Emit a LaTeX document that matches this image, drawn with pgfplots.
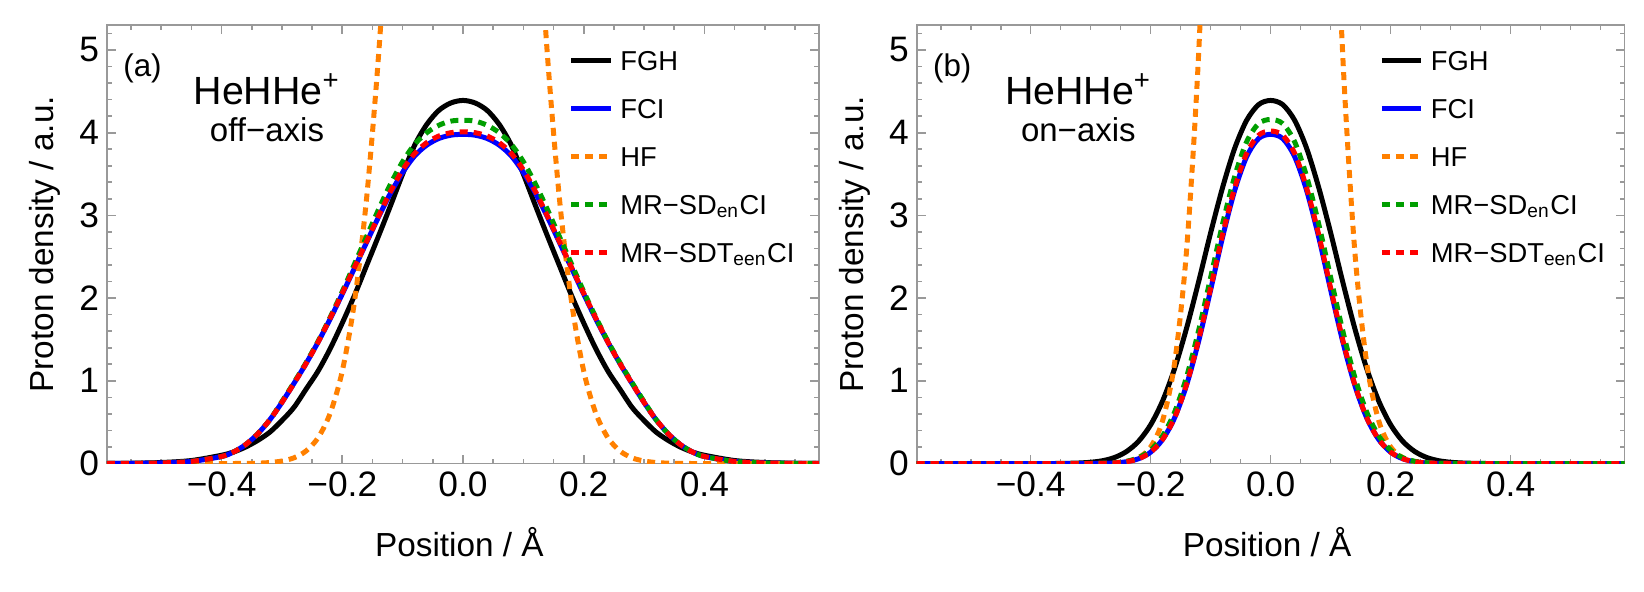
\documentclass[border=0pt]{standalone}
\usepackage{fontspec}
\setmainfont{Liberation Sans}
\usepackage{pgfplots}
\pgfplotsset{compat=1.18}
\usepackage{pgfplotstable}

\definecolor{mmaorange}{rgb}{1,0.5,0}
\definecolor{mmagreen}{rgb}{0,0.62,0}
\definecolor{framegray}{gray}{0.6}

% panel (a): off-axis
\pgfplotstableread{
x fgh fci hf sd sdt
-0.59 0.001 0 0 0 0
-0.55 0.003 0.002 0 0.002 0.002
-0.50 0.012 0.007 0 0.007 0.007
-0.45 0.036 0.025 0 0.025 0.025
-0.40 0.10 0.085 0 0.085 0.085
-0.38 0.14 0.14 0 0.14 0.14
-0.36 0.20 0.23 0.001 0.23 0.23
-0.34 0.28 0.36 0.004 0.36 0.36
-0.32 0.38 0.53 0.012 0.53 0.53
-0.30 0.52 0.74 0.030 0.75 0.74
-0.28 0.68 0.97 0.069 0.98 0.97
-0.26 0.90 1.21 0.152 1.22 1.21
-0.24 1.12 1.47 0.313 1.48 1.47
-0.22 1.39 1.75 0.61 1.77 1.76
-0.20 1.70 2.05 1.12 2.08 2.06
-0.18 2.03 2.36 1.95 2.41 2.37
-0.16 2.39 2.67 3.19 2.74 2.68
-0.14 2.75 2.98 4.93 3.07 2.99
-0.12 3.12 3.27 7.18 3.38 3.29
-0.10 3.50 3.52 9.88 3.65 3.55
-0.08 3.85 3.72 12.83 3.86 3.75
-0.06 4.10 3.85 15.71 4.00 3.88
-0.04 4.27 3.93 18.17 4.09 3.96
-0.02 4.36 3.97 19.82 4.14 4.00
0.00 4.39 3.98 20.4 4.15 4.01
0.02 4.36 3.97 19.82 4.14 4.00
0.04 4.27 3.93 18.17 4.09 3.96
0.06 4.10 3.85 15.71 4.00 3.88
0.08 3.85 3.72 12.83 3.86 3.75
0.10 3.50 3.52 9.88 3.65 3.55
0.12 3.12 3.27 7.18 3.38 3.29
0.14 2.75 2.98 4.93 3.07 2.99
0.16 2.39 2.67 3.19 2.74 2.68
0.18 2.03 2.36 1.95 2.41 2.37
0.20 1.70 2.05 1.12 2.08 2.06
0.22 1.39 1.75 0.61 1.77 1.76
0.24 1.12 1.47 0.313 1.48 1.47
0.26 0.90 1.21 0.152 1.22 1.21
0.28 0.68 0.97 0.069 0.98 0.97
0.30 0.52 0.74 0.030 0.75 0.74
0.32 0.38 0.53 0.012 0.53 0.53
0.34 0.28 0.36 0.004 0.36 0.36
0.36 0.20 0.23 0.001 0.23 0.23
0.38 0.14 0.14 0 0.14 0.14
0.40 0.10 0.085 0 0.085 0.085
0.45 0.036 0.025 0 0.025 0.025
0.50 0.012 0.007 0 0.007 0.007
0.55 0.003 0.002 0 0.002 0.002
0.59 0.001 0 0 0 0
}\dataA

% panel (b): on-axis
\pgfplotstableread{
x fgh fci hf sd sdt
-0.59 0 0 0 0 0
-0.50 0 0 0 0 0
-0.40 0 0 0 0 0
-0.36 0 0 0 0 0
-0.34 0.002 0 0 0 0
-0.32 0.006 0 0 0 0
-0.30 0.015 0 0 0.001 0
-0.28 0.034 0.002 0.0015 0.003 0.002
-0.26 0.073 0.007 0.006 0.009 0.007
-0.24 0.146 0.022 0.022 0.027 0.022
-0.22 0.270 0.058 0.071 0.071 0.058
-0.20 0.468 0.137 0.20 0.162 0.137
-0.18 0.758 0.291 0.52 0.335 0.292
-0.16 1.15 0.554 1.22 0.623 0.556
-0.14 1.64 0.952 2.59 1.05 0.96
-0.12 2.20 1.48 4.96 1.61 1.50
-0.10 2.79 2.10 8.60 2.25 2.12
-0.08 3.34 2.74 13.5 2.90 2.77
-0.06 3.81 3.30 19.1 3.47 3.33
-0.04 4.15 3.71 24.6 3.89 3.75
-0.02 4.34 3.93 28.5 4.11 3.97
0.00 4.39 3.98 30.0 4.16 4.02
0.02 4.34 3.93 28.5 4.11 3.97
0.04 4.15 3.71 24.6 3.89 3.75
0.06 3.81 3.30 19.1 3.47 3.33
0.08 3.34 2.74 13.5 2.90 2.77
0.10 2.79 2.10 8.60 2.25 2.12
0.12 2.20 1.48 4.96 1.61 1.50
0.14 1.64 0.952 2.59 1.05 0.96
0.16 1.15 0.554 1.22 0.623 0.556
0.18 0.758 0.291 0.52 0.335 0.292
0.20 0.468 0.137 0.20 0.162 0.137
0.22 0.270 0.058 0.071 0.071 0.058
0.24 0.146 0.022 0.022 0.027 0.022
0.26 0.073 0.007 0.006 0.009 0.007
0.28 0.034 0.002 0.0015 0.003 0.002
0.30 0.015 0 0 0.001 0
0.32 0.006 0 0 0 0
0.34 0.002 0 0 0 0
0.36 0 0 0 0 0
0.40 0 0 0 0 0
0.50 0 0 0 0 0
0.59 0 0 0 0 0
}\dataB

\pgfplotsset{
  panel/.style={
    scale only axis,
    height=131.5pt,
    xmin=-0.59, xmax=0.59, ymin=0, ymax=5.3,
    axis line style={framegray, line width=0.5pt},
    every tick/.style={framegray, line width=0.5pt},
    tick align=inside,
    major tick length=2.7pt, minor tick length=1.5pt,
    xtick={-0.4,-0.2,0,0.2,0.4},
    xticklabels={−0.4,−0.2,0.0,0.2,0.4},
    minor xtick={-0.55,-0.5,-0.45,-0.35,-0.3,-0.25,-0.15,-0.1,-0.05,0.05,0.1,0.15,0.25,0.3,0.35,0.45,0.5,0.55},
    ytick={0,1,2,3,4,5},
    yticklabels={0,1,2,3,4,5},
    minor ytick={0.2,0.4,0.6,0.8,1.2,1.4,1.6,1.8,2.2,2.4,2.6,2.8,3.2,3.4,3.6,3.8,4.2,4.4,4.6,4.8,5.2},
    tick label style={font=\fontsize{10.6}{12.5}\selectfont, black},
    xticklabel style={inner ysep=2.4pt},
    yticklabel style={inner xsep=2.2pt},
    xlabel={Position / Å},
    ylabel={Proton density / a.u.},
    label style={font=\fontsize{11.4}{13.5}\selectfont},
    every axis x label/.style={at={(axis description cs:0.495,-0.2129)}, anchor=base},
    every axis y label/.style={at={(axis description cs:-0.0758,0.5)}, rotate=90, anchor=base},
    legend cell align=left,
    legend style={draw=none, fill=none, anchor=north west, inner sep=0pt,
      row sep=8.3pt, column sep=2.1pt, font=\fontsize{8.2}{9.8}\selectfont,
      nodes={inner sep=0pt, text height=5.9pt, text depth=0.2pt}},
    legend image code/.code={\draw[#1] (0pt,0pt) -- (11.9pt,0pt);},
    every axis plot/.append style={line width=1.5pt, smooth},
  },
  dsh/.style={dash pattern=on 2.4pt off 1.8pt},
}

\begin{document}
\begin{tikzpicture}
\useasboundingbox (-32.1pt,-38.25pt) rectangle (461.1pt,139.05pt);
\begin{axis}[panel, width=213.6pt, at={(0pt,0pt)}, anchor=south west,
  legend style={at={(0.6475,0.943)}}]
  \addplot[black] table[x=x, y=fgh] {\dataA};
  \addlegendentry{FGH}
  \addplot[blue] table[x=x, y=fci] {\dataA};
  \addlegendentry{FCI}
  \addplot[mmaorange, dsh] table[x=x, y=hf] {\dataA};
  \addlegendentry{HF}
  \addplot[mmagreen, dsh] table[x=x, y=sd] {\dataA};
  \addlegendentry{MR−SD\textsubscript{en}CI}
  \addplot[red, dsh] table[x=x, y=sdt] {\dataA};
  \addlegendentry{MR−SDT\textsubscript{een}CI}
  \node[anchor=base west, inner sep=0pt, font=\fontsize{9.4}{11}\selectfont] at (rel axis cs:0.022,0.882) {(a)};
  \node[anchor=base, inner sep=0pt, font=\fontsize{11.8}{14}\selectfont] at (rel axis cs:0.2247,0.8198) {HeHHe\textsuperscript{+}};
  \node[anchor=base, inner sep=0pt, font=\fontsize{9.9}{12}\selectfont] at (rel axis cs:0.2247,0.7342) {off−axis};
\end{axis}
\begin{axis}[panel, width=212.4pt, at={(242.9pt,0pt)}, anchor=south west,
  legend style={at={(0.6525,0.943)}}]
  \addplot[black] table[x=x, y=fgh] {\dataB};
  \addlegendentry{FGH}
  \addplot[blue] table[x=x, y=fci] {\dataB};
  \addlegendentry{FCI}
  \addplot[mmaorange, dsh] table[x=x, y=hf] {\dataB};
  \addlegendentry{HF}
  \addplot[mmagreen, dsh] table[x=x, y=sd] {\dataB};
  \addlegendentry{MR−SD\textsubscript{en}CI}
  \addplot[red, dsh] table[x=x, y=sdt] {\dataB};
  \addlegendentry{MR−SDT\textsubscript{een}CI}
  \node[anchor=base west, inner sep=0pt, font=\fontsize{9.4}{11}\selectfont] at (rel axis cs:0.0223,0.882) {(b)};
  \node[anchor=base, inner sep=0pt, font=\fontsize{11.8}{14}\selectfont] at (rel axis cs:0.2284,0.8198) {HeHHe\textsuperscript{+}};
  \node[anchor=base, inner sep=0pt, font=\fontsize{9.9}{12}\selectfont] at (rel axis cs:0.2284,0.7342) {on−axis};
\end{axis}
\end{tikzpicture}
\end{document}
